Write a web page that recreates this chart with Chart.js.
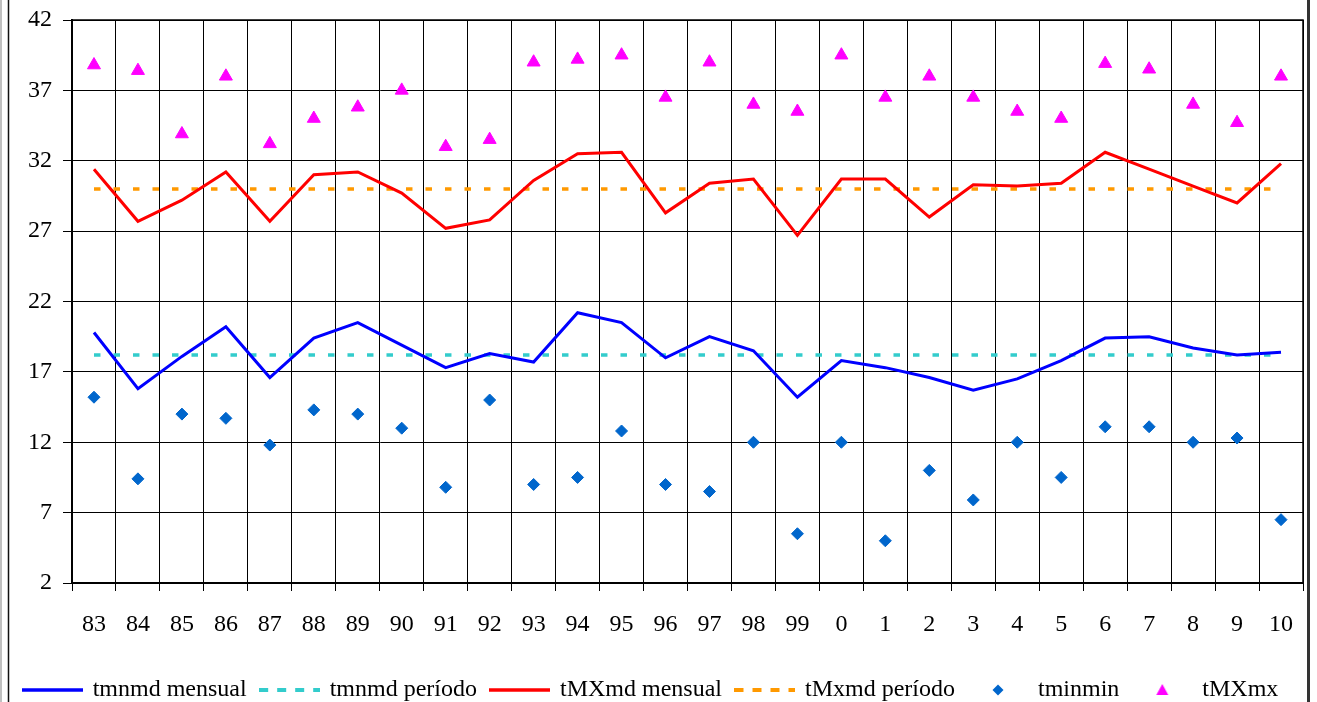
<!DOCTYPE html>
<html>
<head>
<meta charset="utf-8">
<script src="https://cdn.jsdelivr.net/npm/chart.js"></script>
<style>
  html, body { margin: 0; padding: 0; background: #fff; }
  canvas { display: block; }
</style>
</head>
<body>
<canvas id="myChart" width="1317" height="702"></canvas>
<script>
const years = ['83', '84', '85', '86', '87', '88', '89', '90', '91', '92', '93', '94', '95', '96', '97', '98', '99',
               '0', '1', '2', '3', '4', '5', '6', '7', '8', '9', '10'];

const tmnmdMensual = [19.8, 15.8, 18.1, 20.2, 16.6, 19.4, 20.5, 18.9, 17.3, 18.3, 17.7, 21.2, 20.5, 18.0, 19.5, 18.5, 15.2,
                      17.8, 17.3, 16.6, 15.7, 16.5, 17.8, 19.4, 19.5, 18.7, 18.2, 18.4];
const tmnmdPeriodo = [18.2, 18.2, 18.2, 18.2, 18.2, 18.2, 18.2, 18.2, 18.2, 18.2, 18.2, 18.2, 18.2, 18.2, 18.2, 18.2, 18.2,
                      18.2, 18.2, 18.2, 18.2, 18.2, 18.2, 18.2, 18.2, 18.2, 18.2, 18.2];
const tMXmdMensual = [31.4, 27.7, 29.2, 31.2, 27.7, 31.0, 31.2, 29.7, 27.2, 27.8, 30.6, 32.5, 32.6, 28.3, 30.4, 30.7, 26.7,
                      30.7, 30.7, 28.0, 30.3, 30.2, 30.4, 32.6, 31.4, 30.2, 29.0, 31.8];
const tMxmdPeriodo = [30.0, 30.0, 30.0, 30.0, 30.0, 30.0, 30.0, 30.0, 30.0, 30.0, 30.0, 30.0, 30.0, 30.0, 30.0, 30.0, 30.0,
                      30.0, 30.0, 30.0, 30.0, 30.0, 30.0, 30.0, 30.0, 30.0, 30.0, 30.0];
const tminmin = [15.2, 9.4, 14.0, 13.7, 11.8, 14.3, 14.0, 13.0, 8.8, 15.0, 9.0, 9.5, 12.8, 9.0, 8.5, 12.0, 5.5,
                 12.0, 5.0, 10.0, 7.9, 12.0, 9.5, 13.1, 13.1, 12.0, 12.3, 6.5];
const tMXmx = [38.8, 38.4, 33.9, 38.0, 33.2, 35.0, 35.8, 37.0, 33.0, 33.5, 39.0, 39.2, 39.5, 36.5, 39.0, 36.0, 35.5,
               39.5, 36.5, 38.0, 36.5, 35.5, 35.0, 38.9, 38.5, 36.0, 34.7, 38.0];

const yMin = 2;
const yMax = 42;
const yStep = 5;

const serif = 'Liberation Serif';

// little pictures for the legend samples
function lineSample(color, dash) {
    const c = document.createElement('canvas');
    c.width = 61; c.height = 8;
    const g = c.getContext('2d');
    g.strokeStyle = color;
    g.lineWidth = dash ? 4 : 3.5;
    g.setLineDash(dash || []);
    g.beginPath();
    g.moveTo(0, 4);
    g.lineTo(61, 4);
    g.stroke();
    return c;
}

function markerSample(kind, color) {
    const c = document.createElement('canvas');
    c.width = 16; c.height = 16;
    const g = c.getContext('2d');
    g.fillStyle = color;
    g.beginPath();
    if (kind === 'diamond') {
        g.moveTo(8, 2.5); g.lineTo(13.5, 8); g.lineTo(8, 13.5); g.lineTo(2.5, 8);
    } else {
        g.moveTo(8, 2); g.lineTo(14, 13); g.lineTo(2, 13);
    }
    g.closePath();
    g.fill();
    return c;
}

const legendPics = [
    lineSample('#0000FF'),
    lineSample('#33CCCC', [9, 9]),
    lineSample('#FF0000'),
    lineSample('#FF9900', [9, 9]),
    markerSample('diamond', '#0066CC'),
    markerSample('triangle', '#FF00FF')
];

const framePlugin = {
    id: 'frame',
    afterDraw(chart) {
        const ctx = chart.ctx;
        const a = chart.chartArea;
        ctx.save();
        // plot border top and right
        ctx.strokeStyle = '#000';
        ctx.lineWidth = 1.5;
        ctx.beginPath();
        ctx.moveTo(a.left, a.top);
        ctx.lineTo(a.right, a.top);
        ctx.lineTo(a.right, a.bottom);
        ctx.stroke();
        // outer frame
        ctx.strokeStyle = '#c0c0c0';
        ctx.lineWidth = 2;
        ctx.beginPath();
        ctx.moveTo(1, 0); ctx.lineTo(1, chart.height);
        ctx.stroke();
        ctx.strokeStyle = '#111';
        ctx.lineWidth = 1.5;
        ctx.beginPath();
        ctx.moveTo(8.5, 0); ctx.lineTo(8.5, chart.height);
        ctx.stroke();
        ctx.strokeStyle = '#333';
        ctx.lineWidth = 3;
        ctx.beginPath();
        ctx.moveTo(1308.5, 0); ctx.lineTo(1308.5, chart.height);
        ctx.stroke();
        ctx.restore();
    }
};

const ctx = document.getElementById('myChart').getContext('2d');
const myChart = new Chart(ctx, {
    type: 'line',
    data: {
        labels: years,
        datasets: [{
            label: 'tmnmd mensual',
            data: tmnmdMensual,
            borderColor: '#0000FF',
            borderWidth: 3,
            pointRadius: 0,
            tension: 0
        }, {
            label: 'tmnmd período',
            data: tmnmdPeriodo,
            borderColor: '#33CCCC',
            borderWidth: 3.5,
            borderDash: [6.5, 13],
            pointRadius: 0
        }, {
            label: 'tMXmd mensual',
            data: tMXmdMensual,
            borderColor: '#FF0000',
            borderWidth: 3,
            pointRadius: 0,
            tension: 0
        }, {
            label: 'tMxmd período',
            data: tMxmdPeriodo,
            borderColor: '#FF9900',
            borderWidth: 3.5,
            borderDash: [6.5, 13],
            pointRadius: 0
        }, {
            label: 'tminmin',
            data: tminmin,
            showLine: false,
            pointStyle: 'rectRot',
            pointRadius: 6,
            pointBackgroundColor: '#0066CC',
            pointBorderColor: '#0066CC',
            pointBorderWidth: 1
        }, {
            label: 'tMXmx',
            data: tMXmx,
            showLine: false,
            pointStyle: 'triangle',
            pointRadius: 7.5,
            pointBackgroundColor: '#FF00FF',
            pointBorderColor: '#FF00FF',
            pointBorderWidth: 1
        }]
    },
    options: {
        responsive: false,
        animation: false,
        layout: {
            padding: { top: 20, right: 14, left: 0, bottom: -10 }
        },
        scales: {
            x: {
                offset: true,
                grid: {
                    offset: true,
                    color: '#000',
                    lineWidth: 1,
                    tickLength: 8
                },
                border: { color: '#000', width: 2 },
                ticks: {
                    color: '#000',
                    font: { family: serif, size: 24 },
                    padding: 19,
                    maxRotation: 0,
                    autoSkip: false
                },
                afterFit(scale) {
                    scale.height = 80;
                    scale.paddingLeft = 0;
                    scale.paddingRight = 0;
                }
            },
            y: {
                min: yMin,
                max: yMax,
                grid: {
                    color: '#000',
                    lineWidth: 1,
                    tickLength: 9
                },
                border: { color: '#000', width: 2 },
                ticks: {
                    stepSize: yStep,
                    color: '#000',
                    font: { family: serif, size: 24 },
                    padding: 11
                },
                afterFit(scale) {
                    scale.width = 72;
                    scale.paddingTop = 0;
                    scale.paddingBottom = 0;
                }
            }
        },
        plugins: {
            legend: {
                position: 'bottom',
                labels: {
                    usePointStyle: true,
                    pointStyleWidth: 56,
                    padding: 15,
                    color: '#000',
                    font: { family: serif, size: 24 },
                    generateLabels(chart) {
                        return chart.data.datasets.map((ds, i) => ({
                            text: ds.label,
                            pointStyle: legendPics[i],
                            datasetIndex: i,
                            hidden: false,
                            lineWidth: 0,
                            strokeStyle: 'rgba(0,0,0,0)',
                            fillStyle: 'rgba(0,0,0,0)',
                            fontColor: '#000'
                        }));
                    }
                }
            },
            tooltip: { enabled: false }
        }
    },
    plugins: [framePlugin]
});
</script>
</body>
</html>
